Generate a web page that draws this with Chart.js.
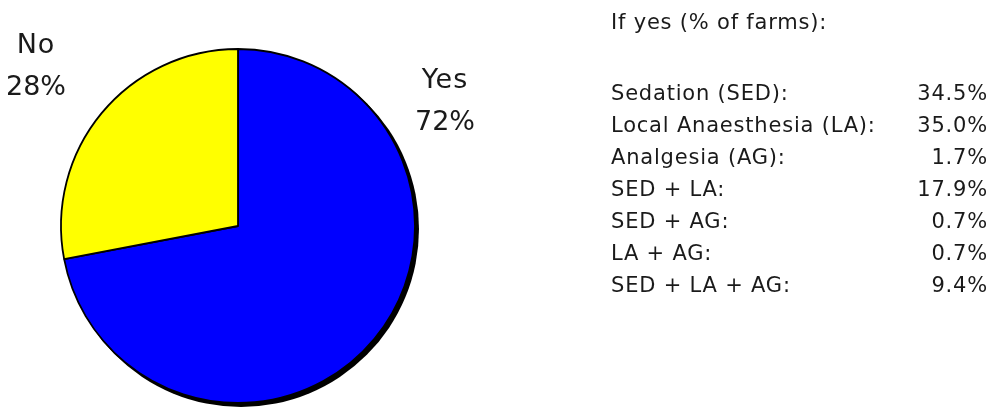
<!DOCTYPE html>
<html>
<head>
<meta charset="utf-8">
<script src="https://cdn.jsdelivr.net/npm/chart.js@4.4.0/dist/chart.umd.min.js"></script>
<style>
  html, body { margin: 0; padding: 0; background: #ffffff; }
  #wrap { position: relative; width: 994px; height: 407px; }
</style>
</head>
<body>
<div id="wrap"><canvas id="chart" width="994" height="407"></canvas></div>
<script>
// Anaesthesia use on farms
const categories = ['Yes', 'No'];
const shares = [72, 28];
const sliceColors = ['#0000ff', '#ffff00'];

// Breakdown of the "yes" answers
const heading = 'If yes (% of farms):';
const methods = ['Sedation (SED):', 'Local Anaesthesia (LA):', 'Analgesia (AG):',
                 'SED + LA:', 'SED + AG:', 'LA + AG:', 'SED + LA + AG:'];
const methodShares = [34.5, 35.0, 1.7, 17.9, 0.7, 0.7, 9.4];

const FONT = '"DejaVu Sans", sans-serif';
const INK = '#1a1a1a';

// solid offset shadow behind the whole pie
const pieShadow = {
  id: 'pieShadow',
  beforeDatasetsDraw(chart) {
    const arc = chart.getDatasetMeta(0).data[0];
    if (!arc) return;
    const {x, y, outerRadius} = arc.getProps(['x', 'y', 'outerRadius'], true);
    const ctx = chart.ctx;
    ctx.save();
    ctx.fillStyle = '#000000';
    ctx.beginPath();
    ctx.arc(x + 3, y + 3, outerRadius + 1, 0, Math.PI * 2);
    ctx.fill();
    ctx.restore();
  }
};

// slice labels and the side table
const textLayer = {
  id: 'textLayer',
  afterDraw(chart) {
    const ctx = chart.ctx;
    const meta = chart.getDatasetMeta(0);
    ctx.save();
    ctx.fillStyle = INK;
    ctx.font = '27px ' + FONT;
    ctx.textAlign = 'center';
    ctx.textBaseline = 'alphabetic';
    const labelPos = [
      {x: 445, y: 88},  // Yes
      {x: 36, y: 53}    // No
    ];
    meta.data.forEach((arc, i) => {
      const p = labelPos[i];
      ctx.letterSpacing = '1px';
      ctx.fillText(categories[i], p.x, p.y);
      ctx.letterSpacing = '0px';
      ctx.fillText(shares[i] + '%', p.x, p.y + 42);
    });

    ctx.font = '21px ' + FONT;
    ctx.letterSpacing = '0.8px';
    ctx.textAlign = 'left';
    ctx.fillText(heading, 611, 29);
    methods.forEach((m, i) => {
      const y = 100 + i * 32;
      ctx.textAlign = 'left';
      ctx.fillText(m, 611, y);
      ctx.textAlign = 'right';
      ctx.fillText(methodShares[i].toFixed(1) + '%', 988, y);
    });
    ctx.restore();
  }
};

new Chart(document.getElementById('chart'), {
  type: 'pie',
  data: {
    labels: categories,
    datasets: [{
      data: shares,
      backgroundColor: sliceColors,
      borderColor: '#000000',
      borderWidth: 1.8,
      borderAlign: 'center',
      hoverOffset: 0
    }]
  },
  options: {
    responsive: false,
    animation: false,
    radius: 177,
    layout: { padding: { left: 0, right: 518, top: 45, bottom: 0 } },
    plugins: {
      legend: { display: false },
      tooltip: { enabled: false }
    }
  },
  plugins: [pieShadow, textLayer]
});
</script>
</body>
</html>
